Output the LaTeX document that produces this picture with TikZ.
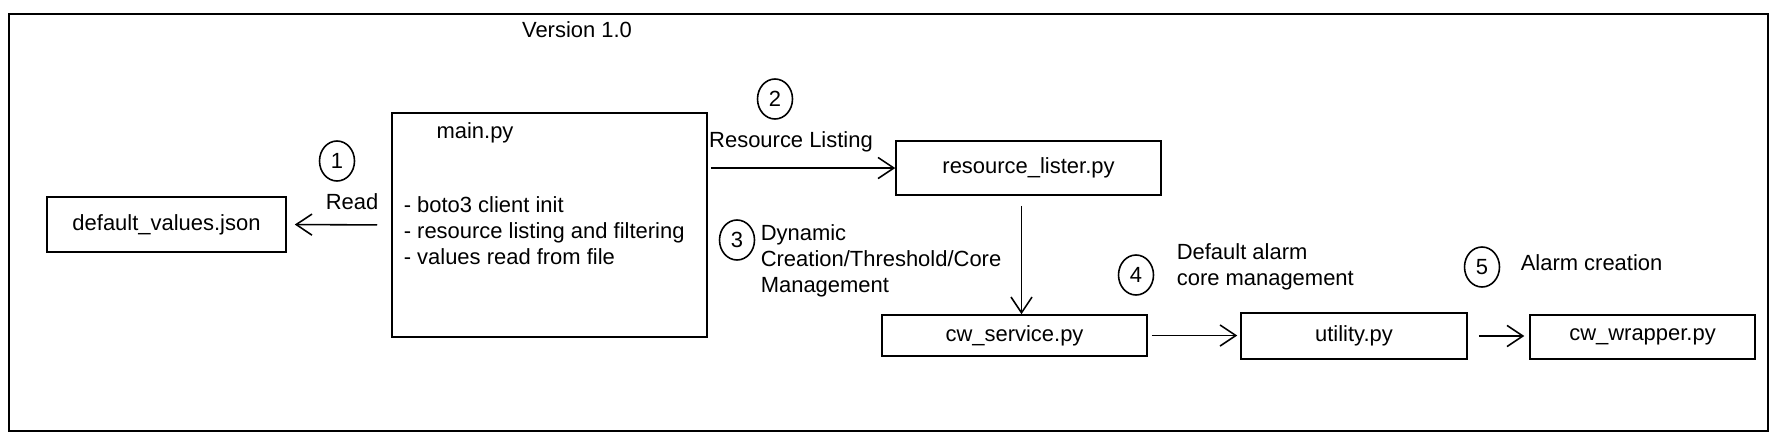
\documentclass[tikz,border=0pt]{standalone}
\usepackage{fontspec}
\setmainfont{Liberation Sans}
\usetikzlibrary{positioning,arrows.meta,calc,shapes.geometric}

\begin{document}
\begin{tikzpicture}[x=0.02cm,y=-0.02cm,line width=0.9pt,
  font=\fontsize{12.5}{14.8}\selectfont,
  filebox/.style={draw,rectangle,align=center,inner sep=0pt},
  stepnum/.style={draw,ellipse,minimum width=0.7cm,minimum height=0.8cm,inner sep=0pt},
  note/.style={align=left,inner sep=0pt},
  link/.style={-{Straight Barb[length=9pt,width=12pt]}}]
\useasboundingbox (0,0) rectangle (1787,439);
\draw (9,14) rectangle (1768,431);
\node (version) at (577,30) {Version 1.0};
% files
\node[filebox,minimum width=4.78cm,minimum height=1.1cm] (json) at (166.5,224.5) {default\_values.json};
\node[filebox,minimum width=6.3cm,minimum height=4.48cm] (main) at (549.5,225) {};
\node (mainname) at (475,133) {main.py};
\node[note,anchor=west] (duties) at (403,231) {- boto3 client init\\- resource listing and filtering\\- values read from file};
\node[filebox,minimum width=5.3cm,minimum height=1.08cm] (lister) at (1028.5,168) {resource\_lister.py};
\node[filebox,minimum width=5.3cm,minimum height=0.82cm] (service) at (1014.5,335.5) {cw\_service.py};
\node[filebox,minimum width=4.52cm,minimum height=0.92cm] (utility) at (1354,336) {utility.py};
\node[filebox,minimum width=4.5cm,minimum height=0.88cm] (wrapper) at (1642.5,337) {cw\_wrapper.py};
% steps
\node[stepnum] (s1) at (337,161) {1};
\node (readlbl) at (352,202) {Read};
\node[stepnum] (s2) at (775,99) {2};
\node (listlbl) at (791,142) {Resource Listing};
\node[stepnum] (s3) at (737,240) {3};
\node[note,anchor=west] (dynlbl) at (760,261) {Dynamic\\Creation/Threshold/Core\\Management};
\node[stepnum] (s4) at (1136,275) {4};
\node[note,anchor=west] (deflbl) at (1176,267) {Default alarm\\core management};
\node[stepnum] (s5) at (1482,267) {5};
\node[note,anchor=west] (alarmlbl) at (1520,263) {Alarm creation};
% arrows
\draw[link,shorten <=14*0.02cm,shorten >=8*0.02cm] (main.west) -- (json.east);
\draw[link,shorten <=3*0.02cm] (main.east |- lister.west) -- (lister.west);
\draw[link,shorten <=10*0.02cm] ([xshift=-7*0.02cm]lister.south) -- ([xshift=-7*0.02cm]lister.south |- service.north);
\draw[link,shorten <=4*0.02cm,shorten >=3*0.02cm] (service.east) -- (service.east -| utility.west);
\draw[link,shorten <=11*0.02cm,shorten >=5*0.02cm] (utility.east) -- (utility.east -| wrapper.west);
\end{tikzpicture}
\end{document}
